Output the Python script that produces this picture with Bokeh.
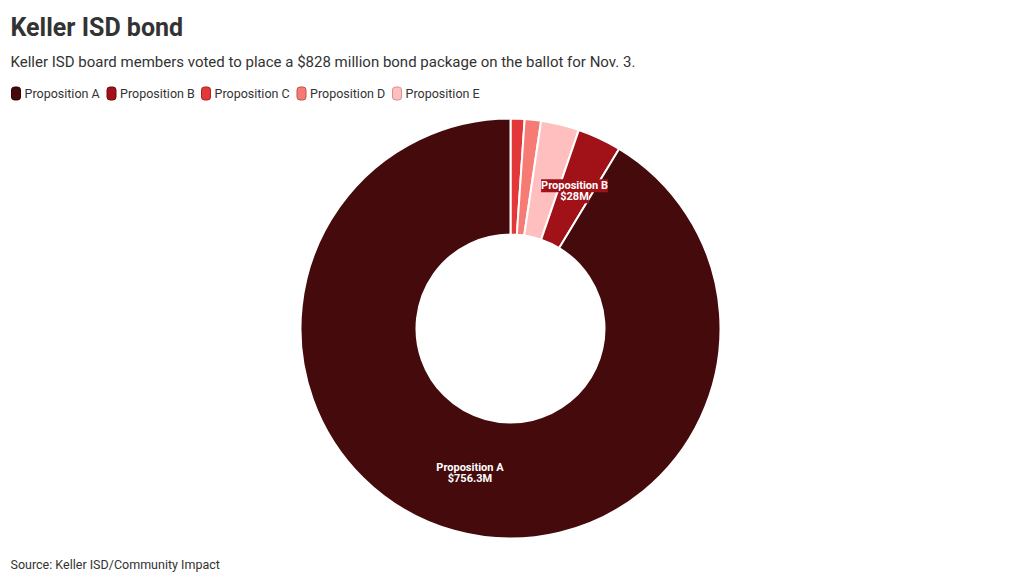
import math
from bokeh.plotting import figure
from bokeh.models import Range1d, ColumnDataSource
from bokeh.core.properties import value
from bokeh.embed import file_html
from bokeh.resources import INLINE

# ---- data ----
propositions = ["Proposition A", "Proposition B", "Proposition C", "Proposition D", "Proposition E"]
amounts = [756.3, 28.0, 8.9, 10.4, 24.4]          # $ millions
label_texts = ["$756.3M", "$28M", "", "", ""]
colors = ["#450a0b", "#a01218", "#e3383a", "#f57b74", "#ffbfbf"]
legend_borders = ["#2a0506", "#6e0a0e", "#a82226", "#c0554f", "#d88f8f"]
show_label = [True, True, False, False, False]

title = "Keller ISD bond"
subtitle = "Keller ISD board members voted to place a $828 million bond package on the ballot for Nov. 3."
source_note = "Source: Keller ISD/Community Impact"

FONT = "Roboto"
W, H = 1004, 575

p = figure(width=W, height=H, output_backend="svg", toolbar_location=None,
           x_range=Range1d(0, W), y_range=Range1d(0, H),
           x_axis_location=None, y_axis_location=None, min_border=0)
p.outline_line_color = None
p.xgrid.visible = False
p.ygrid.visible = False
p.background_fill_color = "white"
p.border_fill_color = "white"

def Y(page_y):
    return H - page_y

# ---- donut: sorted ascending, clockwise from 12 o'clock ----
cx, cy = 510, Y(328)
r_in, r_out = 94, 210
total = sum(amounts)
order = sorted(range(len(amounts)), key=lambda i: amounts[i])
starts, ends, cols, mids = [], [], [], {}
cum = 0.0
for i in order:
    a0 = math.pi / 2 - 2 * math.pi * cum / total
    cum += amounts[i]
    a1 = math.pi / 2 - 2 * math.pi * cum / total
    starts.append(a0)
    ends.append(a1)
    cols.append(colors[i])
    mids[i] = (a0 + a1) / 2

src = ColumnDataSource(dict(x=[cx] * len(order), y=[cy] * len(order),
                            start=starts, end=ends, color=cols))
p.annular_wedge(x="x", y="y", inner_radius=r_in, outer_radius=r_out,
                inner_radius_units="screen", outer_radius_units="screen",
                start_angle="start", end_angle="end", direction="clock",
                fill_color="color", line_color="white", line_width=2, source=src)

# ---- slice labels ----
r_lab = (r_in + r_out) / 2 - 1
for i, name in enumerate(propositions):
    if not show_label[i]:
        continue
    lx = cx + r_lab * math.cos(mids[i])
    ly = cy + r_lab * math.sin(mids[i])
    bg = colors[i] if i != 0 else None
    p.text(x=[lx], y=[ly + 6], text=[name], text_align="center", text_baseline="middle",
           text_font=value(FONT), text_font_style="bold", text_font_size="11px",
           text_color="white", background_fill_color=bg, padding=0)
    p.text(x=[lx], y=[ly - 5], text=[label_texts[i]], text_align="center", text_baseline="middle",
           text_font=value(FONT), text_font_style="bold", text_font_size="11px",
           text_color="white", background_fill_color=bg, padding=0)

# ---- title, subtitle, source ----
p.text(x=[10], y=[Y(27)], text=[title], text_align="left", text_baseline="middle",
       text_font=value(FONT), text_font_style="bold", text_font_size="25px", text_color="#333333")
p.text(x=[10], y=[Y(61)], text=[subtitle], text_align="left", text_baseline="middle",
       text_font=value(FONT), text_font_size="15px", text_color="#333333")
p.text(x=[10], y=[Y(564)], text=[source_note], text_align="left", text_baseline="middle",
       text_font=value(FONT), text_font_size="12.5px", text_color="#333333")

# ---- legend ----
leg_x = [15.5, 111, 205.5, 301, 396.5]
p.rect(x=leg_x, y=[Y(93)] * 5, width=9, height=13, fill_color=colors,
       line_color=legend_borders, line_width=1, border_radius=3)
p.text(x=[x + 8.5 for x in leg_x], y=[Y(93)] * 5, text=propositions, text_align="left",
       text_baseline="middle", text_font=value(FONT), text_font_size="12.5px", text_color="#333333")

open("out.html", "w").write(file_html(p, INLINE))
